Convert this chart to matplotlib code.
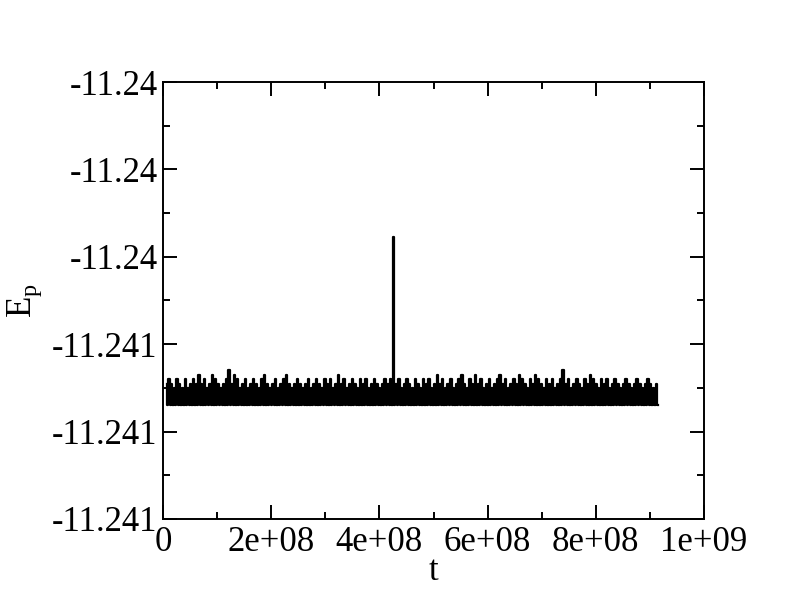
import numpy as np
import matplotlib.pyplot as plt
from matplotlib.ticker import MultipleLocator, FuncFormatter

plt.rcParams['font.family'] = ['Liberation Serif', 'DejaVu Serif']
plt.rcParams['mathtext.fontset'] = 'custom'
plt.rcParams['mathtext.rm'] = 'Liberation Serif'

t_start, t_end = 0.007e9, 0.913e9
e_low = -11.24074
e_high = [
    -11.24069, -11.24068, -11.24069, -11.24070, -11.24068, -11.24069, -11.24070, -11.24068, -11.24070, -11.24069,
    -11.24068, -11.24069, -11.24067, -11.24069, -11.24068, -11.24070, -11.24069, -11.24067, -11.24068, -11.24069,
    -11.24070, -11.24069, -11.24068, -11.24066, -11.24069, -11.24067, -11.24068, -11.24070, -11.24069, -11.24068,
    -11.24070, -11.24069, -11.24068, -11.24069, -11.24070, -11.24068, -11.24067, -11.24069, -11.24070, -11.24069,
    -11.24068, -11.24070, -11.24069, -11.24068, -11.24067, -11.24069, -11.24070, -11.24069, -11.24068, -11.24069,
    -11.24070, -11.24069, -11.24068, -11.24070, -11.24069, -11.24068, -11.24069, -11.24070, -11.24068, -11.24069,
    -11.24068, -11.24070, -11.24069, -11.24067, -11.24069, -11.24068, -11.24070, -11.24069, -11.24068, -11.24069,
    -11.24070, -11.24068, -11.24069, -11.24068, -11.24070, -11.24069, -11.24068, -11.24069, -11.24070, -11.24069,
    -11.24068, -11.24069, -11.24068, -11.240355, -11.24069, -11.24068, -11.24070, -11.24069, -11.24068, -11.24069,
    -11.24070, -11.24068, -11.24069, -11.24070, -11.24068, -11.24069, -11.24068, -11.24070, -11.24069, -11.24067,
    -11.24069, -11.24068, -11.24070, -11.24069, -11.24068, -11.24070, -11.24069, -11.24068, -11.24067, -11.24069,
    -11.24070, -11.24068, -11.24069, -11.24067, -11.24069, -11.24068, -11.24070, -11.24069, -11.24068, -11.24070,
    -11.24069, -11.24068, -11.24067, -11.24069, -11.24068, -11.24070, -11.24069, -11.24068, -11.24069, -11.24067,
    -11.24068, -11.24069, -11.24070, -11.24068, -11.24069, -11.24067, -11.24068, -11.24069, -11.24070, -11.24068,
    -11.24069, -11.24068, -11.24070, -11.24069, -11.24068, -11.24066, -11.24069, -11.24068, -11.24070, -11.24069,
    -11.24068, -11.24069, -11.24070, -11.24068, -11.24069, -11.24067, -11.24068, -11.24069, -11.24070, -11.24068,
    -11.24069, -11.24068, -11.24070, -11.24069, -11.24068, -11.24069, -11.24070, -11.24069, -11.24068, -11.24069,
    -11.24070, -11.24069, -11.24068, -11.24069, -11.24070, -11.24069, -11.24068, -11.24069, -11.24070, -11.24069,
]

n = len(e_high)
t_hi = np.linspace(t_start, t_end, n)
dt = t_hi[1] - t_hi[0]
t = np.empty(2 * n)
e = np.empty(2 * n)
t[0::2] = t_hi
t[1::2] = t_hi + dt / 2
e[0::2] = e_high
e[1::2] = e_low

fig = plt.figure(figsize=(7.92, 6.12), dpi=100)
ax = fig.add_axes([0.2058, 0.152, 0.6831, 0.714])
ax.plot(t, e, color='black', lw=1.6, drawstyle='steps-pre')

ax.set_xlim(0, 1e9)
ax.set_ylim(-11.2410, -11.2400)
ax.xaxis.set_major_locator(MultipleLocator(2e8))
ax.xaxis.set_minor_locator(MultipleLocator(1e8))
ax.yaxis.set_major_locator(MultipleLocator(0.0002))
ax.yaxis.set_minor_locator(MultipleLocator(0.0001))
ax.xaxis.set_major_formatter(FuncFormatter(lambda v, p: f'{v:g}'))
ax.yaxis.set_major_formatter(FuncFormatter(lambda v, p: f'{v:.5g}'))

ax.tick_params(which='both', direction='in', top=True, right=True, width=1.4, labelsize=25)
ax.tick_params(which='major', length=10)
ax.tick_params(axis='x', which='major', pad=5)
ax.tick_params(axis='y', which='major', pad=4)
ax.tick_params(which='minor', length=5)
for s in ax.spines.values():
    s.set_linewidth(1.4)

ax.set_xlabel('t', fontsize=25, labelpad=-3)
ax.set_ylabel(r'E$_\mathrm{p}$', fontsize=25, labelpad=6)

fig.savefig('out.png', dpi=100)
